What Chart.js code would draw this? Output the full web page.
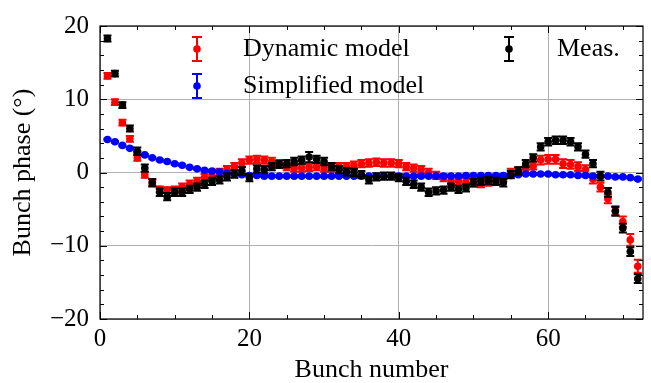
<!DOCTYPE html>
<html>
<head>
<meta charset="utf-8">
<script src="https://cdn.jsdelivr.net/npm/chart.js@4.4.1/dist/chart.umd.min.js"></script>
<style>
  html, body { margin: 0; padding: 0; background: #fff; }
  #wrap { width: 651px; height: 383px; }
</style>
</head>
<body>
<div id="wrap"><canvas id="chart" width="651" height="383"></canvas></div>
<script>
// ─── DATA ───
const bunches = [
  1, 2, 3, 4, 5, 6, 7, 8, 9, 10, 11, 12, 13, 14, 15, 16, 17, 18,
  19, 20, 21, 22, 23, 24, 25, 26, 27, 28, 29, 30, 31, 32, 33, 34, 35, 36,
  37, 38, 39, 40, 41, 42, 43, 44, 45, 46, 47, 48, 49, 50, 51, 52, 53, 54,
  55, 56, 57, 58, 59, 60, 61, 62, 63, 64, 65, 66, 67, 68, 69, 70, 71, 72,
];
const dynamicModel = [
  13.2, 9.6, 6.8, 4.6, 2.0, -0.3, -1.4, -2.3, -2.4, -2.4, -2.0, -1.6, -1.2, -0.7, -0.4, 0.0, 0.4, 0.8,
  1.3, 1.7, 1.8, 1.7, 1.5, 1.2, 0.8, 0.6, 0.6, 0.7, 0.8, 0.6, 0.6, 0.8, 0.8, 1.0, 1.2, 1.3,
  1.4, 1.3, 1.3, 1.2, 0.8, 0.6, 0.4, 0.0, -0.4, -0.7, -1.1, -1.2, -1.3, -1.4, -1.5, -1.3, -1.1, -0.7,
  0.0, 0.2, 0.4, 0.9, 1.7, 1.8, 1.8, 1.2, 1.1, 0.8, 0.4, -0.9, -2.0, -3.6, -5.2, -6.7, -9.2, -12.8,
];
const dynamicErr = [
  0.4, 0.4, 0.4, 0.4, 0.4, 0.4, 0.4, 0.4, 0.4, 0.5, 0.5, 0.5, 0.5, 0.5, 0.5, 0.5, 0.5, 0.5,
  0.5, 0.5, 0.5, 0.5, 0.5, 0.5, 0.5, 0.5, 0.5, 0.5, 0.5, 0.5, 0.5, 0.5, 0.5, 0.5, 0.5, 0.5,
  0.5, 0.5, 0.5, 0.5, 0.5, 0.5, 0.5, 0.5, 0.5, 0.5, 0.5, 0.5, 0.5, 0.5, 0.5, 0.5, 0.5, 0.5,
  0.5, 0.5, 0.5, 0.5, 0.6, 0.6, 0.6, 0.6, 0.6, 0.6, 0.6, 0.6, 0.6, 0.6, 0.6, 0.7, 0.8, 0.9,
];
const simplifiedModel = [
  4.5, 4.2, 3.7, 3.3, 2.8, 2.4, 2.0, 1.7, 1.5, 1.2, 1.0, 0.7, 0.5, 0.3, 0.2, 0.1, -0.1, -0.2,
  -0.3, -0.4, -0.4, -0.5, -0.5, -0.5, -0.5, -0.5, -0.5, -0.5, -0.5, -0.5, -0.5, -0.5, -0.5, -0.5, -0.5, -0.5,
  -0.5, -0.5, -0.5, -0.5, -0.5, -0.5, -0.5, -0.5, -0.5, -0.5, -0.5, -0.5, -0.4, -0.4, -0.4, -0.4, -0.4, -0.4,
  -0.4, -0.3, -0.2, -0.2, -0.2, -0.2, -0.3, -0.3, -0.3, -0.4, -0.4, -0.5, -0.5, -0.5, -0.6, -0.6, -0.7, -0.9,
];
const simplifiedErr = [
  0.1, 0.1, 0.1, 0.1, 0.1, 0.1, 0.1, 0.1, 0.1, 0.1, 0.1, 0.1, 0.1, 0.1, 0.1, 0.1, 0.1, 0.1,
  0.1, 0.1, 0.1, 0.1, 0.1, 0.1, 0.1, 0.1, 0.1, 0.1, 0.1, 0.1, 0.1, 0.1, 0.1, 0.1, 0.1, 0.1,
  0.1, 0.1, 0.1, 0.1, 0.1, 0.1, 0.1, 0.1, 0.1, 0.1, 0.1, 0.1, 0.1, 0.1, 0.1, 0.1, 0.1, 0.1,
  0.1, 0.1, 0.1, 0.1, 0.1, 0.1, 0.1, 0.1, 0.1, 0.1, 0.1, 0.1, 0.1, 0.1, 0.1, 0.1, 0.1, 0.1,
];
const measured = [
  18.3, 13.5, 9.2, 6.0, 2.9, 0.6, -1.4, -2.7, -3.3, -2.7, -2.7, -2.3, -2.0, -1.6, -1.2, -1.0, -0.6, -0.2,
  0.2, -0.7, 0.5, 0.4, 0.8, 1.1, 1.2, 1.5, 1.7, 2.1, 1.8, 1.5, 0.8, 0.4, 0.1, 0.0, -0.3, -1.0,
  -0.6, -0.5, -0.5, -0.7, -1.2, -1.6, -2.0, -2.7, -2.5, -2.4, -2.0, -2.3, -2.1, -1.4, -1.2, -1.1, -1.2, -1.4,
  -0.3, 0.2, 1.2, 2.0, 3.5, 4.2, 4.4, 4.4, 4.2, 3.5, 2.5, 1.2, -0.5, -2.7, -5.3, -7.6, -10.8, -14.5,
];
const measuredErr = [
  0.4, 0.4, 0.4, 0.4, 0.5, 0.5, 0.5, 0.5, 0.5, 0.5, 0.5, 0.5, 0.5, 0.5, 0.5, 0.5, 0.5, 0.5,
  0.5, 0.5, 0.5, 0.5, 0.5, 0.5, 0.5, 0.5, 0.5, 0.7, 0.5, 0.5, 0.5, 0.5, 0.5, 0.5, 0.5, 0.5,
  0.5, 0.5, 0.5, 0.5, 0.5, 0.5, 0.5, 0.5, 0.5, 0.5, 0.5, 0.5, 0.5, 0.5, 0.5, 0.5, 0.5, 0.5,
  0.5, 0.5, 0.5, 0.5, 0.5, 0.5, 0.5, 0.5, 0.5, 0.5, 0.5, 0.5, 0.6, 0.6, 0.6, 0.6, 0.6, 0.6,
];
const seriesLabels = ['Dynamic model', 'Simplified model', 'Meas.'];
const seriesColors = ['#ff0000', '#0000ff', '#000000'];
const xTickValues = [0, 20, 40, 60];
const yTickValues = [-20, -10, 0, 10, 20];

const FONT = "'Liberation Serif', 'Times New Roman', serif";

// ─── ERROR BARS (drawn under each dataset's points) ───
const errorBars = {
  id: 'errorBars',
  beforeDatasetDraw(chart, args) {
    const ds = chart.data.datasets[args.index];
    if (!ds.errors) return;
    const { x, y } = chart.scales;
    const ctx = chart.ctx;
    const a = chart.chartArea;
    ctx.save();
    ctx.beginPath();
    ctx.rect(a.left, a.top, a.right - a.left, a.bottom - a.top);
    ctx.clip();
    ctx.strokeStyle = ds.borderColor;
    ctx.lineWidth = 2;
    ds.data.forEach((p, i) => {
      const px = x.getPixelForValue(p.x);
      const top = y.getPixelForValue(p.y + ds.errors[i]);
      const bot = y.getPixelForValue(p.y - ds.errors[i]);
      ctx.beginPath();
      ctx.moveTo(px, top); ctx.lineTo(px, bot);
      ctx.moveTo(px - 4, top); ctx.lineTo(px + 4, top);
      ctx.moveTo(px - 4, bot); ctx.lineTo(px + 4, bot);
      ctx.stroke();
    });
    ctx.restore();
  },
};

// ─── FRAME + INWARD TICKS ON ALL SIDES ───
const frameTicks = {
  id: 'frameTicks',
  afterDraw(chart) {
    const { ctx, chartArea: a } = chart;
    const { x, y } = chart.scales;
    ctx.save();
    ctx.strokeStyle = '#000';
    ctx.lineWidth = 1.2;
    ctx.strokeRect(a.left, a.top, a.right - a.left, a.bottom - a.top);
    ctx.lineWidth = 1;
    ctx.beginPath();
    for (let v = 0; v <= x.max; v += 5) {
      const px = Math.round(x.getPixelForValue(v)) + 0.5;
      const len = v % 20 === 0 ? 7 : 4;
      ctx.moveTo(px, a.bottom); ctx.lineTo(px, a.bottom - len);
      ctx.moveTo(px, a.top); ctx.lineTo(px, a.top + len);
    }
    for (let v = y.min; v <= y.max; v += 2) {
      const py = Math.round(y.getPixelForValue(v)) + 0.5;
      const len = v % 10 === 0 ? 7 : 4;
      ctx.moveTo(a.left, py); ctx.lineTo(a.left + len, py);
      ctx.moveTo(a.right, py); ctx.lineTo(a.right - len, py);
    }
    ctx.stroke();
    ctx.restore();
  },
};

// ─── LEGEND (two columns, no frame) ───
const errLegend = {
  id: 'errLegend',
  afterDraw(chart) {
    const ctx = chart.ctx;
    const spots = [
      { mx: 197, my: 49, tx: 243 },
      { mx: 197, my: 86, tx: 243 },
      { mx: 509, my: 49, tx: 557 },
    ];
    ctx.save();
    seriesLabels.forEach((label, i) => {
      const s = spots[i];
      ctx.strokeStyle = seriesColors[i];
      ctx.fillStyle = seriesColors[i];
      ctx.lineWidth = 2;
      ctx.beginPath();
      ctx.moveTo(s.mx, s.my - 12); ctx.lineTo(s.mx, s.my + 12);
      ctx.moveTo(s.mx - 5, s.my - 12); ctx.lineTo(s.mx + 5, s.my - 12);
      ctx.moveTo(s.mx - 5, s.my + 12); ctx.lineTo(s.mx + 5, s.my + 12);
      ctx.stroke();
      ctx.beginPath();
      ctx.arc(s.mx, s.my, 3.8, 0, Math.PI * 2);
      ctx.fill();
      ctx.fillStyle = '#000';
      ctx.font = `26px ${FONT}`;
      ctx.textBaseline = 'middle';
      ctx.textAlign = 'left';
      ctx.fillText(label, s.tx, s.my);
    });
    ctx.restore();
  },
};

function series(xs, ys) {
  return xs.map((v, i) => ({ x: v, y: ys[i] }));
}

const datasets = [
  { label: seriesLabels[0], data: series(bunches, dynamicModel), errors: dynamicErr, order: 2 },
  { label: seriesLabels[1], data: series(bunches, simplifiedModel), errors: simplifiedErr, order: 1 },
  { label: seriesLabels[2], data: series(bunches, measured), errors: measuredErr, order: 0 },
].map((d, i) => ({
  ...d,
  backgroundColor: seriesColors[i],
  borderColor: seriesColors[i],
  borderWidth: 0,
  pointRadius: 3.8,
  pointHoverRadius: 3.8,
  showLine: false,
}));

new Chart(document.getElementById('chart'), {
  type: 'scatter',
  data: { datasets },
  plugins: [errorBars, frameTicks, errLegend],
  options: {
    responsive: false,
    animation: false,
    events: [],
    layout: { padding: { top: 17, right: 8, left: 0, bottom: 0 } },
    plugins: { legend: { display: false }, tooltip: { enabled: false } },
    scales: {
      x: {
        type: 'linear', min: 0, max: 72.7,
        afterBuildTicks: s => { s.ticks = xTickValues.map(v => ({ value: v })); },
        afterFit: s => { s.height = 64; },
        grid: { color: '#b0b0b0', lineWidth: 1, drawTicks: false },
        border: { display: false },
        ticks: { color: '#000', padding: 5, maxRotation: 0, font: { family: FONT, size: 25 } },
        title: { display: true, text: 'Bunch number', color: '#000', padding: { top: 0, bottom: -3 },
          font: { family: FONT, size: 26 } },
      },
      y: {
        type: 'linear', min: -20, max: 20,
        afterBuildTicks: s => { s.ticks = yTickValues.map(v => ({ value: v })); },
        afterFit: s => { s.width = 100; },
        grid: { color: '#b0b0b0', lineWidth: 1, drawTicks: false },
        border: { display: false },
        ticks: { color: '#000', padding: 11, font: { family: FONT, size: 25 },
          callback: v => String(v).replace('-', '\u2212') },
        title: { display: true, text: 'Bunch phase (°)', color: '#000', padding: { top: 8, bottom: 0 },
          font: { family: FONT, size: 26 } },
      },
    },
  },
});
</script>
</body>
</html>
